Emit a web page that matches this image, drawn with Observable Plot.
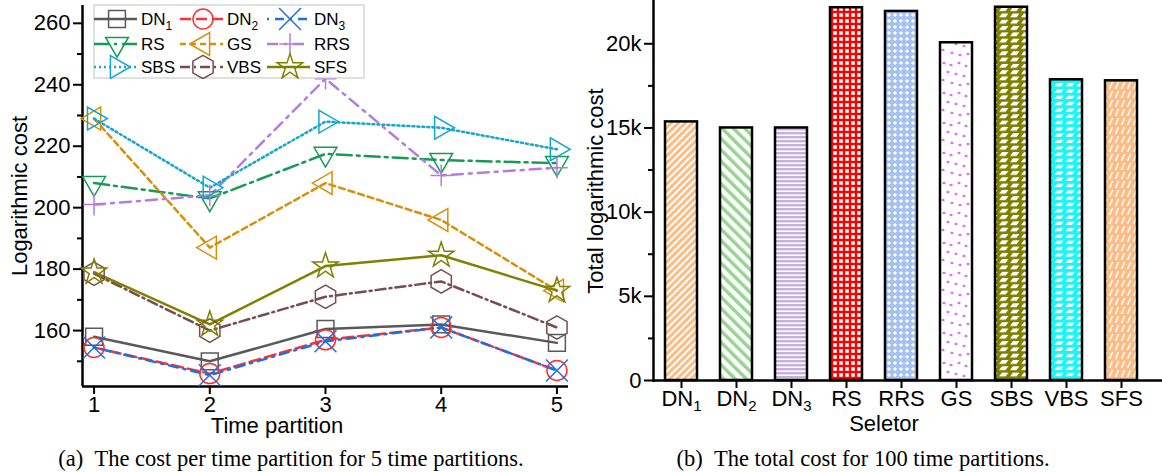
<!DOCTYPE html>
<html><head><meta charset="utf-8">
<script src="https://cdn.jsdelivr.net/npm/d3@7"></script>
<script src="https://cdn.jsdelivr.net/npm/@observablehq/plot@0.6"></script>
<style>
body{margin:0;background:#fff;}
#wrap{position:relative;width:1162px;height:472px;overflow:hidden;font-family:"Liberation Sans",Arial,sans-serif;}
.lbl{position:absolute;font-size:22px;line-height:1;white-space:nowrap;color:#000;transform:translate(-50%,-50%);}
.rot{transform:translate(-50%,-50%) rotate(-90deg);}
.cap{position:absolute;font-family:"Liberation Serif","Times New Roman",serif;font-size:22.5px;line-height:1;white-space:nowrap;transform:translate(-50%,-50%);}
</style></head><body>
<svg width="0" height="0" style="position:absolute">
<defs>
<pattern id="pat0" width="5" height="5" patternUnits="userSpaceOnUse" patternTransform="rotate(45)"><rect width="5" height="5" fill="#fff"/><rect width="3" height="5" fill="#fbbd85"/></pattern>
<pattern id="pat1" width="8" height="8" patternUnits="userSpaceOnUse" patternTransform="rotate(-45)"><rect width="8" height="8" fill="#fff"/><rect width="3.5" height="8" fill="#96d490"/></pattern>
<pattern id="pat2" width="4" height="4" patternUnits="userSpaceOnUse"><rect width="4" height="4" fill="#fff"/><rect width="4" height="2.4" fill="#c3b0de"/></pattern>
<pattern id="pat3" width="6" height="6" patternUnits="userSpaceOnUse"><rect width="6" height="6" fill="#ff0000"/><rect x="1.2" y="1.2" width="3.6" height="3.6" fill="#fff"/></pattern>
<pattern id="pat4" width="6" height="6" patternUnits="userSpaceOnUse"><rect width="6" height="6" fill="#a4c1ef"/><polygon points="3,0.9 5.1,3 3,5.1 0.9,3" fill="#fff"/></pattern>
<pattern id="pat5" width="30" height="30" patternUnits="userSpaceOnUse"><rect width="30" height="30" fill="#fff"/>
<g fill="#e070f0"><ellipse cx="4" cy="3" rx="1.6" ry="1.2"/><ellipse cx="11" cy="5" rx="1.6" ry="1.2"/><ellipse cx="19" cy="3" rx="1.6" ry="1.2"/><ellipse cx="26" cy="6" rx="1.6" ry="1.2"/><ellipse cx="8" cy="12" rx="1.6" ry="1.2"/><ellipse cx="16" cy="14" rx="1.6" ry="1.2"/><ellipse cx="24" cy="16" rx="1.6" ry="1.2"/><ellipse cx="3" cy="20" rx="1.6" ry="1.2"/><ellipse cx="12" cy="23" rx="1.6" ry="1.2"/><ellipse cx="20" cy="25" rx="1.6" ry="1.2"/><ellipse cx="28" cy="24" rx="1.6" ry="1.2"/></g></pattern>
<pattern id="pat6" width="11" height="6.3" patternUnits="userSpaceOnUse"><rect width="11" height="6.3" fill="#7f7f00"/><polygon points="4,1 10.5,1 7.5,4.8 1,4.8" fill="#fff"/></pattern>
<pattern id="pat7" width="11" height="6.3" patternUnits="userSpaceOnUse"><rect width="11" height="6.3" fill="#1ff4f4"/><polygon points="4,1.4 10.5,1.4 8,4.5 1.5,4.5" fill="#fff"/></pattern>
<pattern id="pat8" width="6" height="9" patternUnits="userSpaceOnUse"><rect width="6" height="9" fill="#fbbd85"/><line x1="1.5" y1="8" x2="4.5" y2="1" stroke="#fff" stroke-width="1.5"/></pattern>
</defs></svg>
<div id="wrap"></div>
<script>
// ---------- data ----------
const partitions = [1, 2, 3, 4, 5];
const DN1 = [158, 150, 160.5, 162, 156];
const DN2 = [154.5, 146, 157, 161, 147];
const DN3 = [154.5, 145.5, 156.5, 161, 147];
const RS  = [208, 203, 217.5, 215.5, 214.5];
const GS  = [229, 187, 208, 196, 173];
const RRS = [201, 204, 242, 210.5, 213];
const SBS = [229, 206.5, 228, 226, 219];
const VBS = [178.5, 160, 171, 176, 161];
const SFS = [179, 162, 181, 184.5, 173];
const yTicksA = [160, 180, 200, 220, 240, 260];
const yMinorA = [150, 170, 190, 210, 230, 250];

const selectors = ["DN1", "DN2", "DN3", "RS", "RRS", "GS", "SBS", "VBS", "SFS"];
const totals = [15360, 15000, 15000, 22140, 21920, 20060, 22170, 17860, 17800];
const yTicksB = [0, 5000, 10000, 15000, 20000];
const yMinorB = [2500, 7500, 12500, 17500];

// ---------- symbols ----------
function tri(angle) {
  return {draw(ctx, size) {
    const r = Math.sqrt(size / Math.PI), R = 1.55 * r;
    for (let i = 0; i < 3; i++) {
      const a = angle + i * 2 * Math.PI / 3;
      const x = R * Math.cos(a), y = R * Math.sin(a);
      i ? ctx.lineTo(x, y) : ctx.moveTo(x, y);
    }
    ctx.closePath();
  }};
}
const hexagon = {draw(ctx, size) {
  const r = Math.sqrt(size / Math.PI) * 1.3;
  for (let i = 0; i < 6; i++) {
    const a = -Math.PI / 2 + i * Math.PI / 3;
    const x = r * Math.cos(a), y = r * Math.sin(a);
    i ? ctx.lineTo(x, y) : ctx.moveTo(x, y);
  }
  ctx.closePath();
}};

const series = [
  {name: "DN1", values: DN1, color: "#595959", dash: null, symbol: d3.symbolSquare, r: 9.5},
  {name: "DN2", values: DN2, color: "#ff3030", dash: "11,5", symbol: d3.symbolCircle, r: 10},
  {name: "DN3", values: DN3, color: "#1f6fe0", dash: "2,6,9,6", symbol: d3.symbolTimes, r: 10},
  {name: "RS",  values: RS,  color: "#179a55", dash: "15,5,3,5", symbol: tri(Math.PI / 2), r: 8.5},
  {name: "GS",  values: GS,  color: "#d8900a", dash: "6,4", symbol: tri(Math.PI), r: 8.5},
  {name: "RRS", values: RRS, color: "#b37ddf", dash: "11,6,3,6", symbol: d3.symbolPlus, r: 7},
  {name: "SBS", values: SBS, color: "#14a6cf", dash: "2,3", symbol: tri(0), r: 8.5},
  {name: "VBS", values: VBS, color: "#7a4c4c", dash: "10,4,2,4", symbol: hexagon, r: 9},
  {name: "SFS", values: SFS, color: "#808000", dash: null, symbol: d3.symbolStar, r: 8}
];

const wrap = document.getElementById("wrap");

// ---------- left chart ----------
const rowsA = series.flatMap(s => s.values.map((v, i) => ({x: partitions[i], y: v, s: s.name})));
const marksA = [
  Plot.ruleX([0.9], {stroke: "#000", strokeWidth: 2.5}),
  Plot.ruleY([141.8], {stroke: "#000", strokeWidth: 2.5}),
  Plot.axisY({ticks: yTicksA, tickSize: 9, tickPadding: 3, fontSize: 22, strokeWidth: 2, label: null}),
  Plot.axisY({ticks: yMinorA, tickSize: 5, tickFormat: () => "", strokeWidth: 2, label: null}),
  Plot.axisX({ticks: partitions, tickSize: 8, tickPadding: 2, fontSize: 22, strokeWidth: 2, label: null, tickFormat: d3.format("d")})
];
for (const s of series) {
  const data = rowsA.filter(d => d.s === s.name);
  marksA.push(Plot.line(data, {x: "x", y: "y", stroke: s.color, strokeWidth: 2.5, strokeDasharray: s.dash || undefined}));
}
for (const s of series) {
  const data = rowsA.filter(d => d.s === s.name);
  marksA.push(Plot.dot(data, {x: "x", y: "y", symbol: s.symbol, r: s.r, stroke: s.color, strokeWidth: 1.5, fill: "none"}));
}
const plotA = Plot.plot({
  width: 590, height: 440,
  marginLeft: 82, marginRight: 22, marginTop: 5, marginBottom: 54,
  x: {domain: [0.9, 5.1]},
  y: {domain: [141.8, 265.8]},
  style: {fontFamily: "Liberation Sans, Arial, sans-serif", color: "#000", background: "transparent", overflow: "visible"},
  marks: marksA
});
plotA.style.position = "absolute"; plotA.style.left = "0px"; plotA.style.top = "0px";
wrap.appendChild(plotA);

// legend
const leg = d3.select(wrap).append("svg")
  .attr("width", 272).attr("height", 75)
  .style("position", "absolute").style("left", "93px").style("top", "4px");
leg.append("rect").attr("x", 1).attr("y", 1).attr("width", 270).attr("height", 73)
  .attr("fill", "#fff").attr("stroke", "#cccccc").attr("stroke-width", 1.2);
const colX = [1, 87, 174], rowY = [15, 40, 63];
series.forEach((s, i) => {
  const cx = colX[i % 3], cy = rowY[Math.floor(i / 3)];
  leg.append("line").attr("x1", cx).attr("x2", cx + 43).attr("y1", cy).attr("y2", cy)
    .attr("stroke", s.color).attr("stroke-width", 2.5).attr("stroke-dasharray", s.dash);
  leg.append("path").attr("transform", `translate(${cx + 23},${cy})`)
    .attr("d", d3.symbol().type(s.symbol).size(s.r * s.r * Math.PI)())
    .attr("fill", "none").attr("stroke", s.color).attr("stroke-width", 1.5);
  const t = leg.append("text").attr("x", cx + 47).attr("y", cy + 6).attr("font-size", 17)
    .attr("font-family", "Liberation Sans, Arial, sans-serif");
  const m = s.name.match(/^DN(\d)$/);
  if (m) { t.append("tspan").text("DN"); t.append("tspan").attr("font-size", 12).attr("dy", 5).text(m[1]); }
  else t.text(s.name);
});

// ---------- right chart ----------
const rowsB = selectors.map((s, i) => ({s, v: totals[i], fill: `url(#pat${i})`}));
const plotB = Plot.plot({
  width: 582, height: 440,
  marginLeft: 73, marginRight: 0, marginTop: 0, marginBottom: 60,
  x: {type: "band", domain: selectors, range: [73, 568], paddingInner: 0.42, paddingOuter: 0.21},
  y: {domain: [0, 22570]},
  color: {type: "identity"},
  style: {fontFamily: "Liberation Sans, Arial, sans-serif", color: "#000", background: "transparent", overflow: "visible"},
  marks: [
    Plot.barY(rowsB, {x: "s", y: "v", fill: "fill", stroke: "#000", strokeWidth: 2.5}),
    Plot.frame({anchor: "left", stroke: "#000", strokeWidth: 2.5}),
    Plot.frame({anchor: "bottom", stroke: "#000", strokeWidth: 2.5}),
    Plot.axisY({ticks: yTicksB, tickFormat: d => d === 0 ? "0" : d / 1000 + "k", tickSize: 9, tickPadding: 3, fontSize: 22, strokeWidth: 2, label: null}),
    Plot.axisY({ticks: yMinorB, tickSize: 5, tickFormat: () => "", strokeWidth: 2, label: null}),
    Plot.axisX({tickSize: 8, tickPadding: 2, fontSize: 22, strokeWidth: 2, label: null})
  ]
});
plotB.style.position = "absolute"; plotB.style.left = "580px"; plotB.style.top = "0px";
wrap.appendChild(plotB);
d3.select(plotB).selectAll("text").each(function() {
  const m = this.textContent.match(/^DN(\d)$/);
  if (m) {
    const el = d3.select(this); el.text(null);
    el.append("tspan").text("DN");
    el.append("tspan").attr("font-size", 15).attr("dy", "0.3em").text(m[1]);
  }
});

// ---------- titles & captions ----------
function addDiv(cls, text, x, y) {
  const d = document.createElement("div");
  d.className = cls; d.textContent = text;
  d.style.left = x + "px"; d.style.top = y + "px";
  wrap.appendChild(d);
}
addDiv("lbl rot", "Logarithmic cost", 20, 196);
addDiv("lbl", "Time partition", 277, 426);
addDiv("lbl rot", "Total logarithmic cost", 596, 191);
addDiv("lbl", "Seletor", 884, 424);
addDiv("cap", "(a)\u2002The cost per time partition for 5 time partitions.", 291, 459);
addDiv("cap", "(b)\u2002The total cost for 100 time partitions.", 863, 459);
</script>
</body></html>
